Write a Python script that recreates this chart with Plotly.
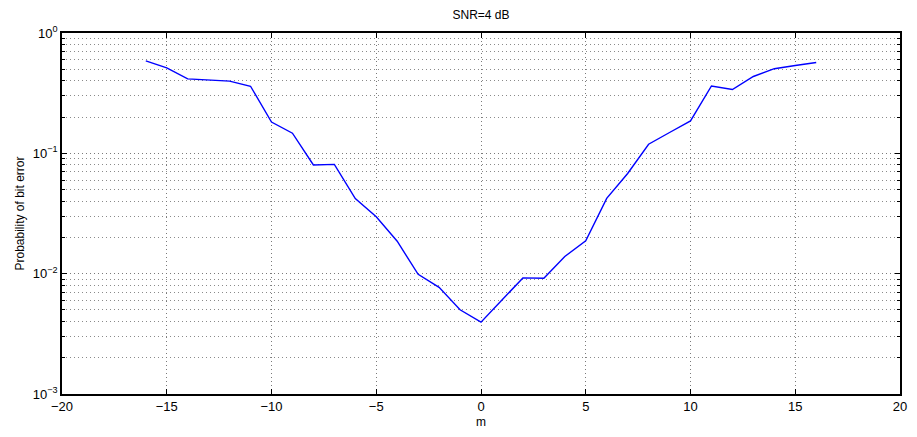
import plotly.graph_objects as go

m_values = list(range(-16, 17))
ber_values = [
    0.586, 0.514, 0.416, 0.409, 0.398, 0.361, 0.182, 0.147, 0.080, 0.081,
    0.0421, 0.0297, 0.0186, 0.00987, 0.00769, 0.00501, 0.00395,
    0.00604, 0.00922, 0.00915, 0.0139, 0.01875, 0.0422, 0.068, 0.119,
    0.149, 0.186, 0.363, 0.339, 0.435, 0.505, 0.537, 0.568,
]
title_text = "SNR=4 dB"
x_label = "m"
y_label = "Probability of bit error"
y_tickvals = [1e-3, 1e-2, 1e-1, 1e0]
y_ticktext = ["10<sup>−3</sup>", "10<sup>−2</sup>", "10<sup>−1</sup>", "10<sup>0</sup>"]

font_family = "Liberation Sans, Arial, Helvetica, sans-serif"
grid_dash = "1px,3px"

fig = go.Figure()
fig.add_trace(go.Scatter(
    x=m_values, y=ber_values, mode="lines",
    line=dict(color="rgb(0,0,255)", width=1.4),
    showlegend=False,
))

fig.update_layout(
    width=917, height=437,
    margin=dict(l=62, r=10, t=33, b=34),
    paper_bgcolor="white", plot_bgcolor="white",
    font=dict(family=font_family, size=12, color="black"),
    title=dict(text=title_text, x=0.5, xref="paper", y=1 - 15/437, yanchor="middle",
               font=dict(size=12, family=font_family)),
)

fig.update_xaxes(
    range=[-20, 20], tickmode="linear", tick0=-20, dtick=5,
    showline=True, linecolor="black", linewidth=1.5, mirror="ticks",
    ticks="inside", ticklen=5, tickcolor="black", tickwidth=1,
    showgrid=True, gridcolor="#7a7a7a", griddash=grid_dash, gridwidth=1,
    zeroline=False,
    tickfont=dict(size=13),
    title=dict(text=x_label, font=dict(size=12), standoff=4),
)

fig.update_yaxes(
    type="log", range=[-3, 0],
    tickmode="array", tickvals=y_tickvals, ticktext=y_ticktext,
    showline=True, linecolor="black", linewidth=1.5, mirror="ticks",
    ticks="inside", ticklen=5, tickcolor="black", tickwidth=1,
    showgrid=True, gridcolor="#7a7a7a", griddash=grid_dash, gridwidth=1,
    zeroline=False,
    tickfont=dict(size=13),
    minor=dict(dtick="D1", ticks="inside", ticklen=3, tickcolor="black",
               showgrid=True, gridcolor="#8a8a8a", griddash=grid_dash, gridwidth=1),
    title=dict(text=y_label, font=dict(size=12), standoff=6),
)

fig.write_html("out.html", config={"displayModeBar": False},
               post_script="document.body.style.margin='0';")
